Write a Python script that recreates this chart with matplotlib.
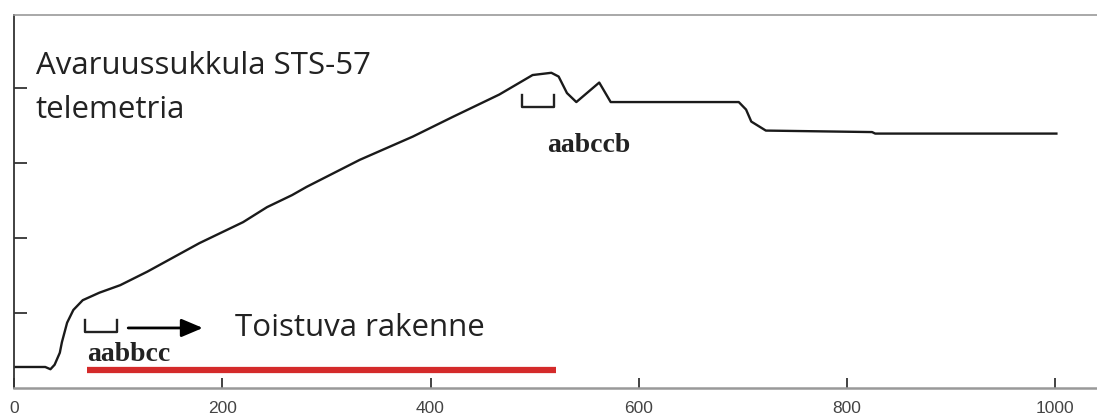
import matplotlib
matplotlib.use('Agg')
import matplotlib.pyplot as plt

# telemetry trace
t_vals = [0, 30, 35, 39, 44, 46, 51, 57, 66, 82, 102, 128, 178, 220, 243, 267,
          281, 332, 383, 421, 466, 498, 516, 523, 531, 540, 562, 573, 696, 703,
          708, 722, 824, 827, 1001]
y_vals = [0.28, 0.28, 0.25, 0.31, 0.47, 0.61, 0.87, 1.04, 1.17, 1.27, 1.37, 1.55,
          1.93, 2.21, 2.41, 2.57, 2.68, 3.04, 3.35, 3.61, 3.91, 4.17, 4.20, 4.15,
          3.93, 3.81, 4.07, 3.81, 3.81, 3.71, 3.55, 3.43, 3.41, 3.39, 3.39]

x_ticks = [0, 200, 400, 600, 800, 1000]
y_ticks = [1, 2, 3, 4]

title_lines = ["Avaruussukkula STS-57", "telemetria"]
pattern_label = "Toistuva rakenne"
motif_start = "aabbcc"
motif_end = "aabccb"
red_span = (70, 520)

fig = plt.figure(figsize=(10.97, 4.19), dpi=100)
ax = fig.add_axes([14 / 1097, 31 / 419, 1083 / 1097, 373 / 419])

ax.plot(t_vals, y_vals, color='#1a1a1a', lw=1.7, solid_joinstyle='round')

ax.set_xlim(0, 1040)
ax.set_ylim(0, 4.97)
ax.set_xticks(x_ticks)
ax.set_yticks(y_ticks)
ax.set_yticklabels([])
ax.tick_params(axis='x', direction='in', length=7, width=1.2, color='#222222',
               labelsize=12.5, labelcolor='#444444', pad=9)
ax.tick_params(axis='y', direction='in', length=9, width=1.2, color='#222222')
for lbl in ax.get_xticklabels():
    lbl.set_family('Liberation Sans')

ax.spines['right'].set_visible(False)
ax.spines['left'].set_color('#333333')
ax.spines['left'].set_linewidth(1.3)
ax.spines['bottom'].set_color('#999999')
ax.spines['bottom'].set_linewidth(1.8)
ax.spines['top'].set_color('#999999')
ax.spines['top'].set_linewidth(1.2)

# title text inside the plot
ax.text(21, 4.19, title_lines[0], fontsize=22.5, family='Open Sans', color='#222222',
        va='baseline')
ax.text(21, 3.60, title_lines[1], fontsize=22.5, family='Open Sans', color='#222222',
        va='baseline')

# brackets
ax.plot([68, 68, 99, 99], [0.91, 0.75, 0.75, 0.91], color='#222222', lw=1.7)
ax.plot([488, 488, 519, 519], [3.91, 3.75, 3.75, 3.91], color='#222222', lw=1.7)

# arrow
ax.annotate('', xy=(184, 0.80), xytext=(107, 0.80),
            arrowprops=dict(arrowstyle='-|>,head_length=1.3,head_width=0.55',
                            color='black', lw=2))

ax.text(212, 0.80, pattern_label, fontsize=22.5, family='Open Sans', color='#222222',
        va='center')
ax.text(70, 0.44, motif_start, fontsize=20, family='Liberation Serif',
        weight='bold', color='#222222', va='center')
ax.text(552, 3.23, motif_end, fontsize=20, family='Liberation Serif',
        weight='bold', color='#222222', va='center', ha='center')

ax.plot(red_span, [0.24, 0.24], color='#d42a2a', lw=4.5, solid_capstyle='butt')

fig.savefig('out.png', dpi=100)
